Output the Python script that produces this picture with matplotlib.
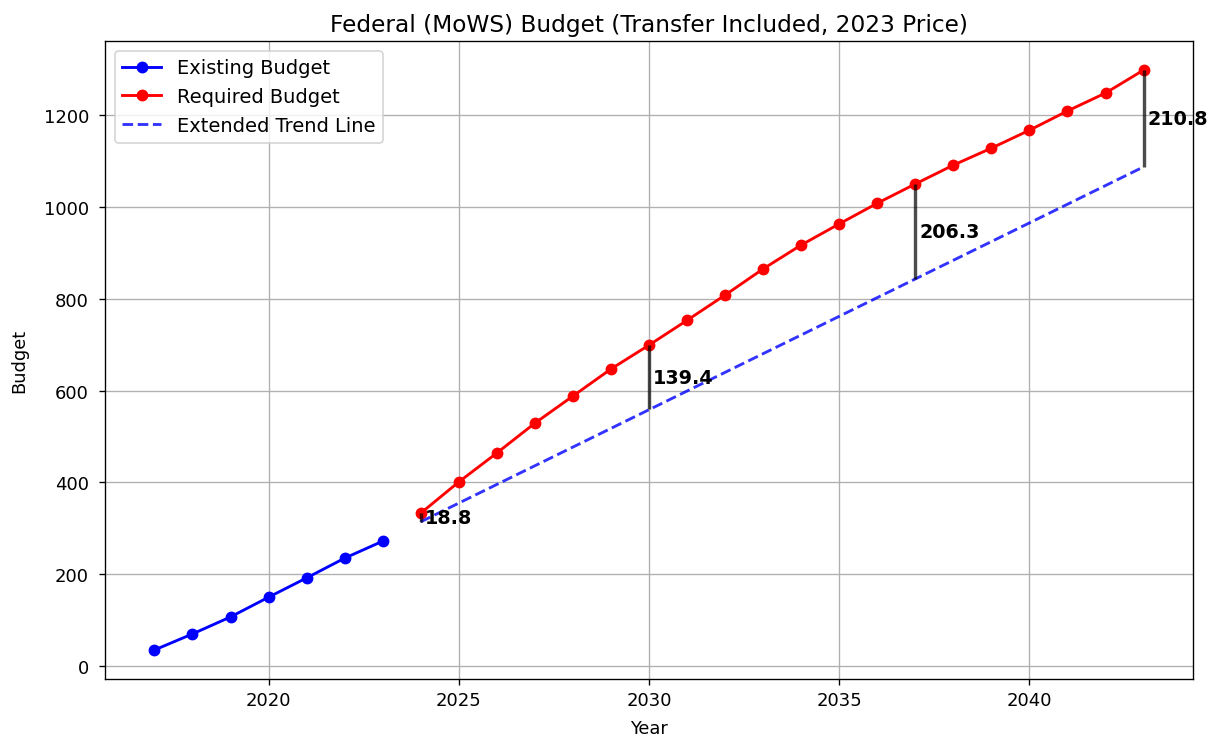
import matplotlib
matplotlib.use("Agg")
import matplotlib.pyplot as plt

# Budget series
existing_years = [2017, 2018, 2019, 2020, 2021, 2022, 2023]
existing_budget = [35, 70, 107, 150, 192, 235, 272]

required_years = list(range(2024, 2044))
required_budget = [333, 401, 464, 529, 588, 647, 699, 753, 808, 865,
                   917, 963, 1008, 1050, 1091, 1128, 1167, 1209, 1248, 1298]

# Gap between required budget and the extended trend at selected years
gap_years = [2024, 2030, 2037, 2043]
gap_values = [18.8, 139.4, 206.3, 210.8]

fig, ax = plt.subplots(figsize=(10, 6.09), dpi=121.5)
fig.subplots_adjust(left=0.0864, right=0.9819, top=0.9432, bottom=0.0811)

ax.plot(existing_years, existing_budget, "o-", color="blue", lw=1.7, label="Existing Budget")
ax.plot(required_years, required_budget, "o-", color="red", lw=1.7, label="Required Budget")

req_lookup = dict(zip(required_years, required_budget))
trend_start = req_lookup[gap_years[0]] - gap_values[0]
trend_end = req_lookup[gap_years[-1]] - gap_values[-1]
ax.plot([gap_years[0], gap_years[-1]], [trend_start, trend_end], "--",
        color="blue", alpha=0.8, lw=1.7, label="Extended Trend Line")

for yr, gap in zip(gap_years, gap_values):
    top = req_lookup[yr]
    bottom = top - gap
    ax.vlines(yr, bottom, top, color="black", alpha=0.7, linewidth=2)
    ax.text(yr + 0.1, (top + bottom) / 2, f"{gap:.1f}", fontweight="bold",
            va="center", ha="left", fontsize=11.3)

ax.set_title("Federal (MoWS) Budget (Transfer Included, 2023 Price)", fontsize=13.8)
ax.set_xlabel("Year", fontsize=10.5, labelpad=6)
ax.set_ylabel("Budget", fontsize=10.5, labelpad=9)
ax.tick_params(axis="both", labelsize=10.7)
ax.tick_params(axis="y", pad=6)
ax.grid(True)
ax.legend(loc="upper left", fontsize=11.5)

fig.savefig("out.png")
